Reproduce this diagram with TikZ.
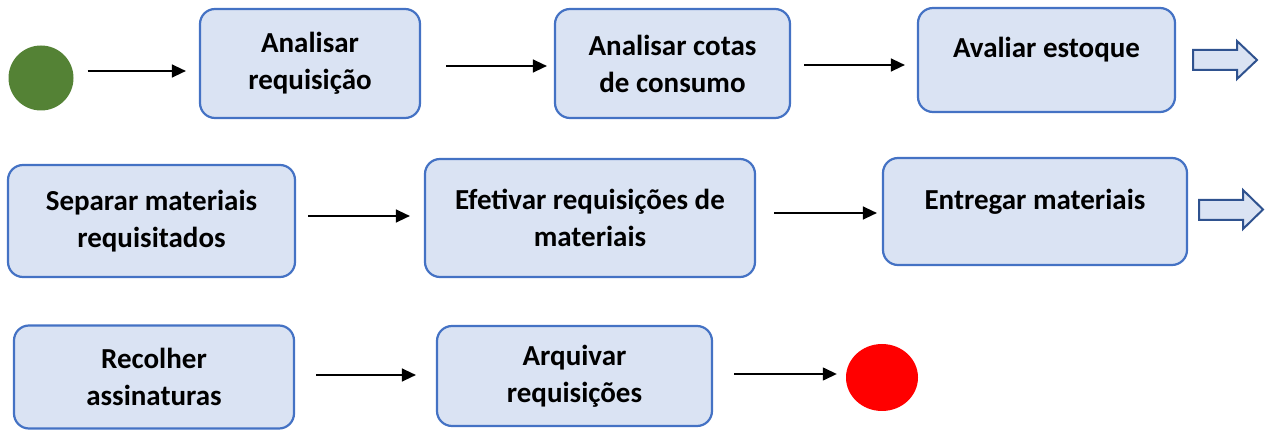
\documentclass[tikz,border=0pt]{standalone}
\usepackage{fontspec}
\setmainfont{Carlito}
\usetikzlibrary{arrows.meta,shapes.geometric}
\definecolor{boxfill}{HTML}{DAE3F3}
\definecolor{boxline}{HTML}{4472C4}
\definecolor{blockline}{HTML}{2F528F}
\definecolor{startgreen}{HTML}{548235}
\definecolor{endred}{HTML}{FF0000}
\tikzset{
  stepbox/.style={draw=boxline, fill=boxfill, line width=2.2pt, rounded corners=15pt,
    inner sep=0pt, align=center, font=\bfseries\fontsize{29}{37}\selectfont},
  boxtext/.style={inner sep=0pt, align=center, font=\bfseries\fontsize{29}{37}\selectfont},
  conn/.style={draw=black, line width=1.4pt, -{Triangle[length=14pt,width=13pt]}},
  blockarrow/.style={draw=blockline, fill=boxfill, line width=2pt, line join=miter}
}
\begin{document}
\begin{tikzpicture}[x=1pt,y=-1pt]
\useasboundingbox (0,0) rectangle (1270,430);
% start / end
\node[circle, fill=startgreen, minimum size=65pt, inner sep=0pt] (start) at (41,78) {};
\node[ellipse, fill=endred, minimum width=72pt, minimum height=67pt, inner sep=0pt] (stop) at (882,377.5) {};
% row 1
\node[stepbox, minimum width=220pt, minimum height=109pt] (b1) at (310,63.5) {Analisar\\requisição};
\node[stepbox, minimum width=235pt, minimum height=109pt] (b2) at (672.5,63.5) {Analisar cotas\\de consumo};
\node[stepbox, minimum width=257pt, minimum height=104pt] (b3) at (1046.5,60) {};
\node[boxtext] (t3) at (1046.5,50) {Avaliar estoque};
% row 2
\node[stepbox, minimum width=287pt, minimum height=112pt] (b4) at (151.5,221) {Separar materiais\\requisitados};
\node[stepbox, minimum width=330pt, minimum height=118pt] (b5) at (590,218) {Efetivar requisições de\\materiais};
\node[stepbox, minimum width=304pt, minimum height=107pt] (b6) at (1035,211.5) {};
\node[boxtext] (t6) at (1035,202) {Entregar materiais};
% row 3
\node[stepbox, minimum width=280pt, minimum height=103pt] (b7) at (154,377) {Recolher\\assinaturas};
\node[stepbox, minimum width=275pt, minimum height=100pt] (b8) at (574.5,376) {Arquivar\\requisições};
% connectors
\draw[conn, shorten <=14pt, shorten >=13pt] (start.east |- 0,71) -- (b1.west |- 0,71);
\draw[conn, shorten <=25pt, shorten >=7pt] (b1.east |- 0,66) -- (b2.west |- 0,66);
\draw[conn, shorten <=13pt, shorten >=12pt] (b2.east |- 0,65) -- (b3.west |- 0,65);
\draw[conn, shorten <=12pt, shorten >=14pt] (b4.east |- 0,216) -- (b5.west |- 0,216);
\draw[conn, shorten <=18pt, shorten >=5pt] (b5.east |- 0,213) -- (b6.west |- 0,213);
\draw[conn, shorten <=21pt, shorten >=20pt] (b7.east |- 0,375) -- (b8.west |- 0,375);
\draw[conn, shorten <=21pt, shorten >=9pt] (b8.east |- 0,374) -- (stop.west |- 0,374);
% block arrows
\draw[blockarrow] (1193,50) -- (1237,50) -- (1237,41) -- (1257,60) -- (1237,79) -- (1237,70) -- (1193,70) -- cycle;
\draw[blockarrow] (1199,200) -- (1243,200) -- (1243,190) -- (1263,209.5) -- (1243,229) -- (1243,220) -- (1199,220) -- cycle;
\end{tikzpicture}
\end{document}
